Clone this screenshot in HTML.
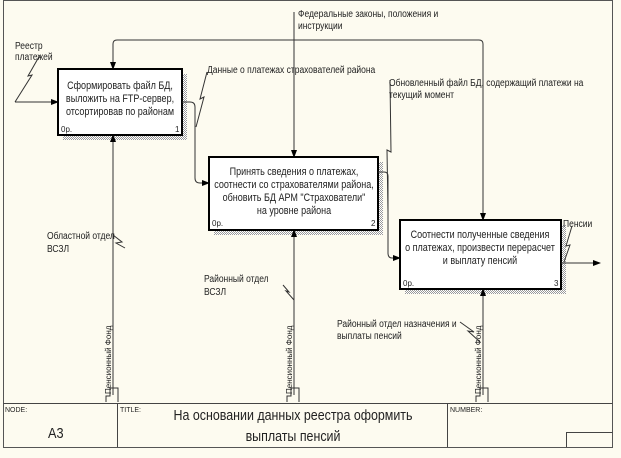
<!DOCTYPE html>
<html><head><meta charset="utf-8"><style>
body{margin:0;background:#fdfbf0;}
svg{display:block;}
text{font-family:"Liberation Sans","Noto Sans CJK SC",sans-serif;fill:#222;}
</style></head><body>
<svg width="621" height="458" viewBox="0 0 621 458" xmlns="http://www.w3.org/2000/svg">
<defs>
<pattern id="sh" width="2" height="2" patternUnits="userSpaceOnUse"><rect width="2" height="2" fill="#fff"/><rect width="1" height="1" fill="#999"/><rect x="1" y="1" width="1" height="1" fill="#999"/></pattern>
<marker id="a" markerWidth="8" markerHeight="8" refX="7" refY="4" orient="auto" markerUnits="userSpaceOnUse"><path d="M0,1 L8,4 L0,7z" fill="#000"/></marker>
</defs>
<rect x="0" y="0" width="621" height="458" fill="#fdfbf0"/>
<rect x="3.5" y="0.5" width="609" height="447" fill="none" stroke="#555"/>
<rect x="63" y="74" width="124" height="66" fill="url(#sh)"/>
<rect x="214" y="162" width="169" height="73" fill="url(#sh)"/>
<rect x="405" y="225" width="161" height="69" fill="url(#sh)"/>
<rect x="58" y="69" width="124" height="66" fill="#fff" stroke="#000" stroke-width="2"/>
<rect x="209" y="157" width="169" height="73" fill="#fff" stroke="#000" stroke-width="2"/>
<rect x="400" y="220" width="161" height="69" fill="#fff" stroke="#000" stroke-width="2"/>
<g font-size="11" text-anchor="middle">
<g transform="translate(120,0) scale(0.82,1)"><text x="0" y="89">Сформировать файл БД,</text><text x="0" y="102">выложить на FTP-сервер,</text><text x="0" y="115">отсортировав по районам</text></g>
<g transform="translate(294,0) scale(0.82,1)"><text x="0" y="175">Принять сведения о платежах,</text><text x="0" y="188">соотнести со страхователями района,</text><text x="0" y="201">обновить БД АРМ "Страхователи"</text><text x="0" y="214">на уровне района</text></g>
<g transform="translate(480,0) scale(0.82,1)"><text x="0" y="238">Соотнести полученные сведения</text><text x="0" y="251">о платежах, произвести перерасчет</text><text x="0" y="264">и выплату пенсий</text></g>
</g>
<g font-size="8">
<text x="61" y="132">0p.</text><text x="175" y="132">1</text>
<text x="212" y="226">0p.</text><text x="371" y="226">2</text>
<text x="403" y="286">0p.</text><text x="554" y="286">3</text>
</g>
<g fill="none" stroke="#333" stroke-width="1">
<path d="M113,69 V44 Q113,40 117,40 H479 Q483,40 483,44 V220" marker-end="url(#a)"/>
<path d="M113,44 V69" marker-end="url(#a)"/>
<path d="M294,12 V157" marker-end="url(#a)"/>
<path d="M15,102 H58" marker-end="url(#a)"/>
<path d="M15,102 L32,75 L28,76 L40,55"/>
<path d="M182,102 H190 Q195,102 195,107 V178 Q195,183 200,183 H209" marker-end="url(#a)"/>
<path d="M196,127 L204,97 L200,99 L207,72"/>
<path d="M378,172 H384 Q388,172 388,176 V253 Q388,258 392,258 H400" marker-end="url(#a)"/>
<path d="M388,212 L387,150 L391,152 L390,80"/>
<path d="M561,263 H600" marker-end="url(#a)"/>
<path d="M564,262 L570,245 L566,246 L572,226"/>
<path d="M113,395 V135" marker-end="url(#a)"/>
<path d="M294,395 V230" marker-end="url(#a)"/>
<path d="M483,395 V289" marker-end="url(#a)"/>
<path d="M113,235 L122,242 L116,243 L125,248"/>
<path d="M283,285 L289,292 L286,291 L294,300"/>
<path d="M460,322 L474,332 L468,331 L480,342"/>
<path d="M106,402 V396 H110 V388 H118 V402"/>
<path d="M287,402 V396 H291 V388 H299 V402"/>
<path d="M476,402 V396 H480 V388 H488 V402"/>
</g>
<g font-size="10">
<g transform="translate(15,0) scale(0.85,1)"><text x="0" y="49">Реестр</text><text x="0" y="60">платежей</text></g>
<g transform="translate(207,0) scale(0.85,1)"><text x="0" y="73">Данные о платежах страхователей района</text></g>
<g transform="translate(298,0) scale(0.85,1)"><text x="0" y="17">Федеральные законы, положения и</text><text x="0" y="29">инструкции</text></g>
<g transform="translate(389,0) scale(0.85,1)"><text x="0" y="86">Обновленный файл БД, содержащий платежи на</text><text x="0" y="98">текущий момент</text></g>
<g transform="translate(563,0) scale(0.85,1)"><text x="0" y="227">Пенсии</text></g>
<g transform="translate(47,0) scale(0.85,1)"><text x="0" y="239">Областной отдел</text><text x="0" y="252">ВСЗЛ</text></g>
<g transform="translate(204,0) scale(0.85,1)"><text x="0" y="282">Районный отдел</text><text x="0" y="295">ВСЗЛ</text></g>
<g transform="translate(337,0) scale(0.85,1)"><text x="0" y="327">Районный отдел назначения и</text><text x="0" y="339">выплаты пенсий</text></g>
</g>
<g font-size="8">
<text transform="translate(111,394) rotate(-90)">Пенсионный Фонд</text>
<text transform="translate(292,394) rotate(-90)">Пенсионный Фонд</text>
<text transform="translate(481,394) rotate(-90)">Пенсионный Фонд</text>
</g>
<g fill="none" stroke="#444">
<line x1="3.5" y1="403.5" x2="612.5" y2="403.5"/>
<line x1="117.5" y1="403.5" x2="117.5" y2="447"/>
<line x1="447.5" y1="403.5" x2="447.5" y2="447"/>
<path d="M566.5,447 V432.5 H612.5"/>
</g>
<g font-size="7"><text x="5" y="412">NODE:</text><text x="120" y="412">TITLE:</text><text x="450" y="412">NUMBER:</text></g>
<g transform="translate(48,0) scale(0.85,1)"><text x="0" y="438" font-size="15">A3</text></g>
<g font-size="15" text-anchor="middle" transform="translate(293,0) scale(0.83,1)"><text x="0" y="420">На основании данных реестра оформить</text><text x="0" y="441">выплаты пенсий</text></g>
</svg>
</body></html>
